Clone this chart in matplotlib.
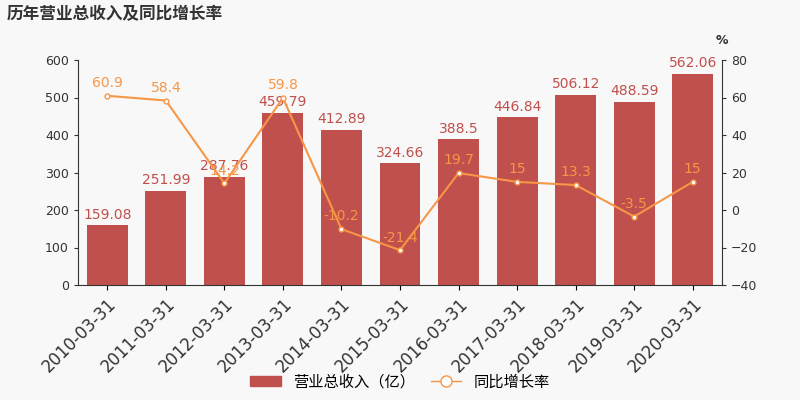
import matplotlib
matplotlib.use("Agg")
import matplotlib.pyplot as plt
from matplotlib.lines import Line2D
from matplotlib.patches import Patch

plt.rcParams['font.family'] = ['DejaVu Sans', 'Noto Sans CJK SC']

categories = ["2010-03-31","2011-03-31","2012-03-31","2013-03-31","2014-03-31","2015-03-31",
              "2016-03-31","2017-03-31","2018-03-31","2019-03-31","2020-03-31"]
revenue = [159.08, 251.99, 287.76, 459.79, 412.89, 324.66, 388.5, 446.84, 506.12, 488.59, 562.06]
growth = [60.9, 58.4, 14.2, 59.8, -10.2, -21.4, 19.7, 15, 13.3, -3.5, 15]
rev_labels = ["159.08","251.99","287.76","459.79","412.89","324.66","388.5","446.84","506.12","488.59","562.06"]
gr_labels = ["60.9","58.4","14.2","59.8","-10.2","-21.4","19.7","15","13.3","-3.5","15"]

bg = '#f8f8f8'
bar_c = '#c0504d'
line_c = '#f79646'
cjk = ['Noto Sans CJK SC', 'DejaVu Sans']

fig = plt.figure(figsize=(8, 4), dpi=100, facecolor=bg)
ax = fig.add_axes([0.0975, 0.2875, 0.805, 0.5625], facecolor=bg)
x = list(range(len(categories)))
ax.bar(x, revenue, width=0.7, color=bar_c)
ax.set_ylim(0, 600)
ax.set_yticks(range(0, 601, 100))
ax.set_xlim(-0.5, len(categories) - 0.5)
for i, v in enumerate(revenue):
    ax.text(i, v + 10, rev_labels[i], ha='center', va='bottom', color=bar_c, fontsize=10)
ax.set_xticks(x)
ax.set_xticklabels(categories, rotation=45, ha='right', rotation_mode='anchor', fontsize=12, color='#333333')
ax.tick_params(axis='y', labelsize=9, colors='#333333', length=3)
for s in ['top', 'right']:
    ax.spines[s].set_visible(False)
ax.spines['left'].set_color('#333333')
ax.spines['bottom'].set_color('#333333')

ax2 = ax.twinx()
ax2.plot(x, growth, color=line_c, lw=1.5, marker='o', ms=3.5, mfc='white', mec=line_c)
ax2.set_ylim(-40, 80)
ax2.set_yticks(range(-40, 81, 20))
ax2.tick_params(axis='y', labelsize=9, colors='#333333', length=3)
for s in ['top', 'left', 'bottom']:
    ax2.spines[s].set_visible(False)
ax2.spines['right'].set_color('#333333')
for i, v in enumerate(growth):
    ax2.text(i, v + 3, gr_labels[i], ha='center', va='bottom', color=line_c, fontsize=10)
ax2.text(1.0, 1.06, '%', transform=ax2.transAxes, ha='center', va='bottom', fontsize=9,
         color='#333333', fontweight='bold')

fig.text(0.008, 0.965, '历年营业总收入及同比增长率', fontsize=12, fontweight='bold', color='#333333',
         va='center', family=cjk)

handles = [Patch(color=bar_c),
           Line2D([0], [0], color=line_c, marker='o', mfc='white', mec=line_c, ms=8, lw=1)]
fig.legend(handles, ['营业总收入（亿）', '同比增长率'], loc='lower center', bbox_to_anchor=(0.5, -0.01),
           ncol=2, frameon=False, handlelength=2, columnspacing=1.0,
           prop={'family': cjk, 'size': 11})
fig.savefig('out.png', facecolor=bg)
